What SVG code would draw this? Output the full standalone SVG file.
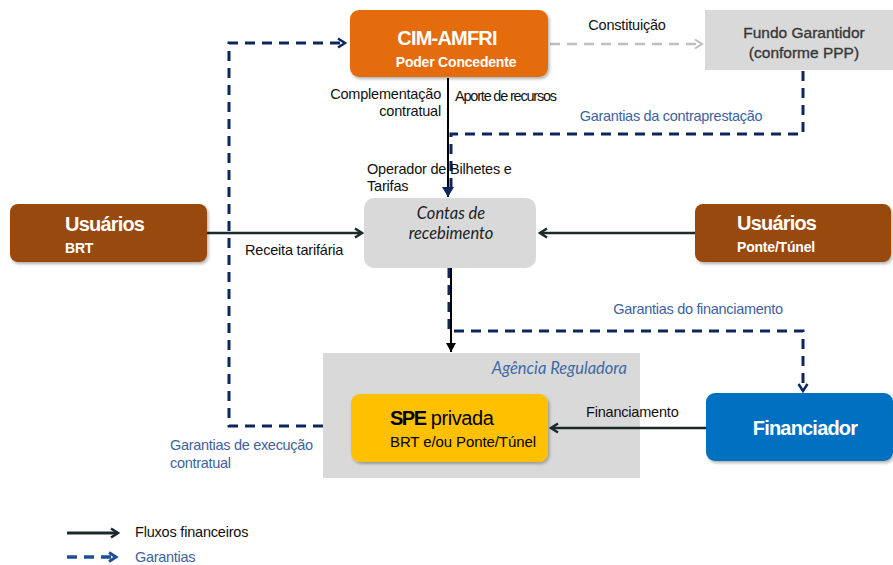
<svg xmlns="http://www.w3.org/2000/svg" width="893" height="565" viewBox="0 0 893 565">
<defs>
<style>
text{font-family:"Liberation Sans",Arial,sans-serif;}
.w{fill:#fff;font-weight:bold;}
.big{font-size:20px;letter-spacing:-0.8px;}
.sm{font-size:14px;letter-spacing:-0.2px;}
.lbl{font-size:14.5px;fill:#111;letter-spacing:-0.2px;}
.blue{font-size:14.5px;fill:#3d62a0;letter-spacing:-0.3px;}
.solid{stroke:#1a2a2a;stroke-width:2.5;fill:none;}
.blk{stroke:#000;stroke-width:2;fill:none;}
.dash{stroke:#0d2660;stroke-width:3;fill:none;stroke-dasharray:10 7;}
.gdash{stroke:#bfbfbf;stroke-width:2.5;fill:none;stroke-dasharray:10 7;}
.it{font-family:Lato,"Open Sans",sans-serif;font-style:italic;}
</style>
<filter id="sh" x="-10%" y="-10%" width="125%" height="130%">
<feDropShadow dx="1.5" dy="2" stdDeviation="1.5" flood-color="#000" flood-opacity="0.3"/>
</filter>
<marker id="chev" markerWidth="12" markerHeight="12" refX="9" refY="6" orient="auto" markerUnits="userSpaceOnUse">
<path d="M2,1.5 L9,6 L2,10.5" fill="none" stroke="#1a2a2a" stroke-width="2.5"/>
</marker>
<marker id="chevN" markerWidth="12" markerHeight="12" refX="9" refY="6" orient="auto" markerUnits="userSpaceOnUse">
<path d="M2,1.5 L9,6 L2,10.5" fill="none" stroke="#0d2660" stroke-width="2.5"/>
</marker>
<marker id="chevG" markerWidth="12" markerHeight="12" refX="9" refY="6" orient="auto" markerUnits="userSpaceOnUse">
<path d="M2,1.5 L9,6 L2,10.5" fill="none" stroke="#bfbfbf" stroke-width="2"/>
</marker>
<marker id="triN" markerWidth="12" markerHeight="12" refX="10" refY="6" orient="auto" markerUnits="userSpaceOnUse">
<path d="M0,0 L10,6 L0,12 z" fill="#0d2660"/>
</marker>
<marker id="triB" markerWidth="10" markerHeight="10" refX="9" refY="5" orient="auto" markerUnits="userSpaceOnUse">
<path d="M0,0 L9,5 L0,10 z" fill="#000"/>
</marker>
<marker id="chevL" markerWidth="12" markerHeight="12" refX="9" refY="6" orient="auto" markerUnits="userSpaceOnUse">
<path d="M2,1.5 L9,6 L2,10.5" fill="none" stroke="#1f4e99" stroke-width="3"/>
</marker>
</defs>
<rect width="893" height="565" fill="#fff"/>

<g id="agencia">
<rect x="323" y="353" width="317" height="125" fill="#d9d9d9"/>
<text x="627" y="374" text-anchor="end" class="it" font-size="16.5" fill="#4169a6">Agência Reguladora</text>
</g>

<g id="connectors">
<path class="dash" d="M323,426 H229 V43 H345" marker-end="url(#chevN)"/>
<path class="gdash" d="M550,44 H702" marker-end="url(#chevG)"/>
<path class="dash" d="M803,71 V134 H451 V190"/>
<path class="blk" d="M448,78 V197" marker-end="url(#triN)"/>
<path class="solid" d="M207,233 H362" marker-end="url(#chev)"/>
<path class="solid" d="M695,233 H540" marker-end="url(#chev)"/>
<path class="dash" d="M449,268 V331 H803 V391" marker-end="url(#chevN)"/>
<path class="blk" d="M451,268 V352" marker-end="url(#triB)"/>
<path class="solid" d="M706,428 H551" marker-end="url(#chev)"/>
</g>

<g id="cim">
<rect x="350" y="10" width="198" height="67" rx="9" fill="#e46c0a" filter="url(#sh)"/>
<text x="447" y="45" text-anchor="middle" class="w big">CIM-AMFRI</text>
<text x="456" y="67" text-anchor="middle" class="w sm">Poder Concedente</text>
</g>

<g id="fundo">
<rect x="705" y="10" width="188" height="60" fill="#d9d9d9"/>
<text x="804" y="38" text-anchor="middle" font-size="15.5" fill="#383838" stroke="#383838" stroke-width="0.35">Fundo Garantidor</text>
<text x="804" y="58" text-anchor="middle" font-size="15.5" fill="#383838" stroke="#383838" stroke-width="0.35">(conforme PPP)</text>
</g>

<g id="usuarios-brt">
<rect x="10" y="204" width="197" height="58" rx="8" fill="#984807" filter="url(#sh)"/>
<text x="65" y="231" class="w big">Usuários</text>
<text x="65" y="253" class="w sm">BRT</text>
</g>

<g id="contas">
<rect x="364" y="198" width="172" height="70" rx="10" fill="#d9d9d9"/>
<text x="451" y="219" text-anchor="middle" class="it" font-size="16.5" fill="#222">Contas de</text>
<text x="451" y="239" text-anchor="middle" class="it" font-size="16.5" fill="#222">recebimento</text>
</g>

<g id="usuarios-ponte">
<rect x="695" y="204" width="196" height="58" rx="8" fill="#984807" filter="url(#sh)"/>
<text x="737" y="230" class="w big">Usuários</text>
<text x="737" y="252" class="w sm">Ponte/Túnel</text>
</g>

<g id="spe">
<rect x="351" y="394" width="197" height="68" rx="9" fill="#ffc000" filter="url(#sh)"/>
<text x="390" y="425" font-size="20" fill="#000"><tspan font-weight="bold" style="letter-spacing:-1.5px">SPE</tspan><tspan style="letter-spacing:-0.4px"> privada</tspan></text>
<text x="390" y="447" font-size="15" fill="#000" style="letter-spacing:-0.1px">BRT e/ou Ponte/Túnel</text>
</g>

<g id="financiador">
<rect x="706" y="393" width="187" height="68" rx="9" fill="#0070c0" filter="url(#sh)"/>
<text x="805" y="435" text-anchor="middle" class="w big">Financiador</text>
</g>

<g id="labels">
<text x="627" y="30" text-anchor="middle" class="lbl">Constituição</text>
<text x="441" y="99" text-anchor="end" class="lbl">Complementação</text>
<text x="441" y="116" text-anchor="end" class="lbl">contratual</text>
<text x="455" y="101" class="lbl" style="letter-spacing:-1.2px">Aporte de recursos</text>
<text x="671" y="121" text-anchor="middle" class="blue">Garantias da contraprestação</text>
<text x="367" y="174" class="lbl">Operador de Bilhetes e</text>
<text x="367" y="191" class="lbl">Tarifas</text>
<text x="245" y="255" class="lbl">Receita tarifária</text>
<text x="698" y="314" text-anchor="middle" class="blue">Garantias do financiamento</text>
<text x="586" y="417" class="lbl">Financiamento</text>
<text x="170" y="450" class="blue">Garantias de execução</text>
<text x="170" y="468" class="blue">contratual</text>
</g>

<g id="legend">
<path d="M67,533 H118" stroke="#1a2a2a" stroke-width="3" fill="none" marker-end="url(#chev)"/>
<text x="135" y="537" class="lbl">Fluxos financeiros</text>
<path d="M67,557 H116" stroke="#1f4e99" stroke-width="3.5" fill="none" stroke-dasharray="10 7" marker-end="url(#chevL)"/>
<text x="135" y="562" class="blue">Garantias</text>
</g>
</svg>
